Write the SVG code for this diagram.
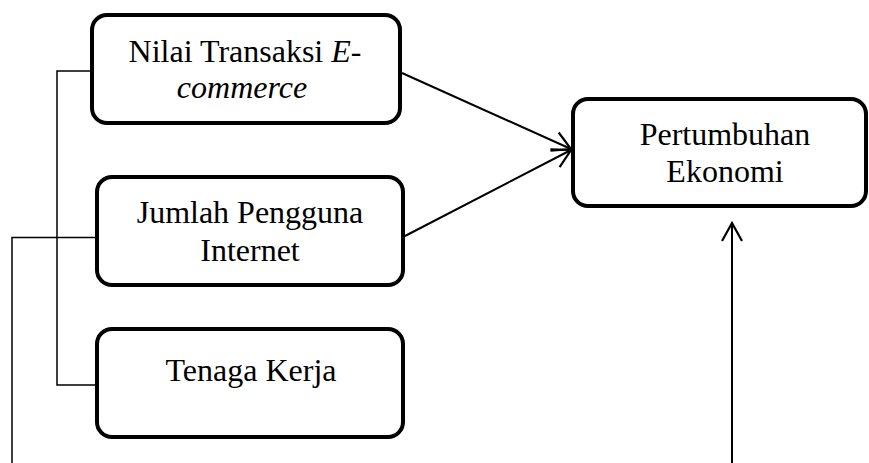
<svg xmlns="http://www.w3.org/2000/svg" width="869" height="463" viewBox="0 0 869 463">
<style>
.box{fill:#fff;stroke:#000;stroke-width:4}
.t{font-family:"Liberation Serif","Times New Roman",serif;font-size:32px;fill:#000;text-anchor:middle}
.i{font-style:italic}
.c{fill:none;stroke:#000;stroke-width:1.5}
.a{fill:none;stroke:#000;stroke-width:2;marker-end:url(#arr)}
</style>
<defs>
<marker id="arr" markerUnits="userSpaceOnUse" viewBox="-22 -13 24 26" markerWidth="24" markerHeight="26" refX="0" refY="0" orient="auto" overflow="visible">
<path d="M-18,-10 L0,0 L-18,10" fill="none" stroke="#000" stroke-width="2.2"/>
</marker>
</defs>
<rect width="869" height="463" fill="#fff"/>
<g id="connectors">
<polyline class="c" points="93,71 57,71 57,385 97,385"/>
<polyline class="c" points="97,237.5 12,237.5 12,463"/>
<line class="a" x1="402" y1="73" x2="571" y2="149"/>
<line class="a" x1="405" y1="236" x2="571" y2="150"/>
<line class="a" x1="732" y1="463" x2="732" y2="223"/>
</g>
<g id="n1">
<rect class="box" x="92" y="15" width="308" height="108" rx="15"/>
<text class="t" x="245" y="62">Nilai Transaksi <tspan class="i">E-</tspan></text>
<text class="t i" x="242" y="98">commerce</text>
</g>
<g id="n2">
<rect class="box" x="97" y="177" width="306" height="108" rx="15"/>
<text class="t" x="250" y="223">Jumlah Pengguna</text>
<text class="t" x="250" y="261">Internet</text>
</g>
<g id="n3">
<rect class="box" x="97" y="329" width="306" height="108" rx="15"/>
<text class="t" x="251" y="381">Tenaga Kerja</text>
</g>
<g id="n4">
<rect class="box" x="573" y="99" width="293" height="107" rx="15"/>
<text class="t" x="725" y="145">Pertumbuhan</text>
<text class="t" x="725" y="182">Ekonomi</text>
</g>
</svg>
